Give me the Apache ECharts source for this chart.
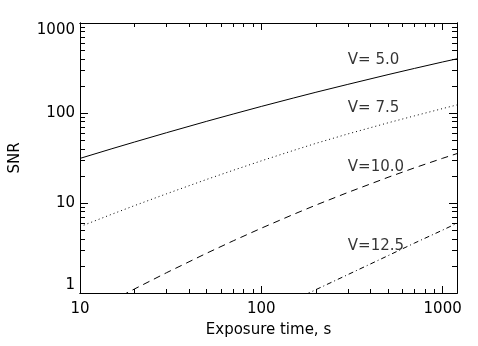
<!DOCTYPE html>
<html>
<head>
<meta charset="utf-8">
<script src="https://cdn.jsdelivr.net/npm/echarts@6/dist/echarts.min.js"></script>
<style>html,body{margin:0;padding:0;background:#fff;}#c{width:478px;height:346px;}</style>
</head>
<body>
<div id="c"></div>
<script>
// Data
var tV50 = [10, 15, 20, 30, 50, 70, 100, 150, 200, 300, 500, 700, 1000, 1200];
var snrV50 = [31.3, 40.1, 47.6, 60.4, 80.9, 97.4, 118.3, 146.5, 170, 208, 267, 313, 369, 400];

var tV75 = [10, 15, 20, 30, 50, 70, 100, 150, 200, 300, 500, 700, 1000, 1200];
var snrV75 = [5.46, 7.51, 9.36, 12.65, 18.3, 23.1, 29.4, 38.3, 46, 58.5, 77.8, 93, 112, 123];

var tV100 = [17, 18.1, 20, 30, 50, 70, 100, 150, 200, 300, 500, 700, 1000, 1200];
var snrV100 = [0.94, 1.0, 1.11, 1.68, 2.77, 3.8, 5.25, 7.46, 9.48, 13.1, 19.3, 24.6, 31.4, 35.4];

var tV125 = [175, 183, 200, 300, 500, 700, 1000, 1200];
var snrV125 = [0.95, 1.0, 1.09, 1.6, 2.6, 3.59, 5.0, 5.96];

var curveNames = ['V= 5.0', 'V= 7.5', 'V=10.0', 'V=12.5'];
var labelX = [300, 300, 300, 300];
var labelY = [384, 113, 25, 3.34];

var xMajor = [10, 100, 1000];
var xMinor = [20, 30, 40, 50, 60, 70, 80, 90, 200, 300, 400, 500, 600, 700, 800, 900];
var yMajor = [1, 10, 100, 1000];
var yMinor = [2, 3, 4, 5, 6, 7, 8, 9, 20, 30, 40, 50, 60, 70, 80, 90, 200, 300, 400, 500, 600, 700, 800, 900];

var X_MIN = 10, X_MAX = 1200, Y_MIN = 1, Y_MAX = 1000;
var FONT = 'DejaVu Sans';

function zip(a, b) { return a.map(function (v, i) { return [v, b[i]]; }); }

function xAxisDef(pos, ticks, len, showLabel, name) {
  return {
    type: 'log', logBase: 10, min: X_MIN, max: X_MAX, position: pos,
    name: name || '', nameLocation: 'middle', nameGap: 30,
    nameTextStyle: { color: '#000', fontFamily: FONT, fontSize: 15 },
    axisLine: { show: true, onZero: false, lineStyle: { color: '#000', width: 1 } },
    axisTick: { show: true, inside: true, length: len, customValues: ticks, lineStyle: { color: '#000', width: 1 } },
    axisLabel: { show: showLabel, customValues: xMajor, margin: 9, color: '#000', fontFamily: FONT, fontSize: 15,
      formatter: function (v) { return String(Math.round(v)); } },
    splitLine: { show: false }, minorTick: { show: false }
  };
}
function yAxisDef(pos, ticks, len, showLabel, name) {
  return {
    type: 'log', logBase: 10, min: Y_MIN, max: Y_MAX, position: pos,
    name: name || '', nameLocation: 'middle', nameGap: 57,
    nameTextStyle: { color: '#000', fontFamily: FONT, fontSize: 15 },
    axisLine: { show: true, onZero: false, lineStyle: { color: '#000', width: 1 } },
    axisTick: { show: true, inside: true, length: len, customValues: ticks, lineStyle: { color: '#000', width: 1 } },
    axisLabel: { show: showLabel, customValues: yMajor, margin: 5, color: '#000', fontFamily: FONT, fontSize: 15,
      verticalAlignMaxLabel: 'top', verticalAlignMinLabel: 'bottom',
      formatter: function (v) { return String(Math.round(v)); } },
    splitLine: { show: false }, minorTick: { show: false }
  };
}

function lineSeries(t, s, dash) {
  return {
    type: 'line', xAxisIndex: 0, yAxisIndex: 0, data: zip(t, s),
    showSymbol: false, symbol: 'none', clip: true, silent: true,
    lineStyle: { color: '#000', width: 1, type: dash }
  };
}

var chart = echarts.init(document.getElementById('c'), null, { renderer: 'canvas' });
chart.setOption({
  backgroundColor: '#fff',
  animation: false,
  grid: { left: 77, top: 23, width: 380, height: 270, containLabel: false },
  xAxis: [
    xAxisDef('bottom', xMajor, 7, true, 'Exposure time, s'),
    xAxisDef('bottom', xMinor, 4, false),
    xAxisDef('top', xMajor, 7, false),
    xAxisDef('top', xMinor, 4, false)
  ],
  yAxis: [
    yAxisDef('left', yMajor, 8, true, 'SNR'),
    yAxisDef('left', yMinor, 5, false),
    yAxisDef('right', yMajor, 8, false),
    yAxisDef('right', yMinor, 5, false)
  ],
  series: [
    lineSeries(tV50, snrV50, 'solid'),
    lineSeries(tV75, snrV75, [1, 3]),
    lineSeries(tV100, snrV100, [7, 5]),
    lineSeries(tV125, snrV125, [5, 3, 1, 3]),
    {
      type: 'scatter', xAxisIndex: 0, yAxisIndex: 0, symbolSize: 0, silent: true,
      data: labelX.map(function (x, i) { return { value: [x, labelY[i]], name: curveNames[i] }; }),
      label: { show: true, position: [0, 0], align: 'left', verticalAlign: 'middle',
        formatter: function (p) { return p.name; },
        color: '#000', fontFamily: FONT, fontSize: 15 }
    }
  ]
});
</script>
</body>
</html>
